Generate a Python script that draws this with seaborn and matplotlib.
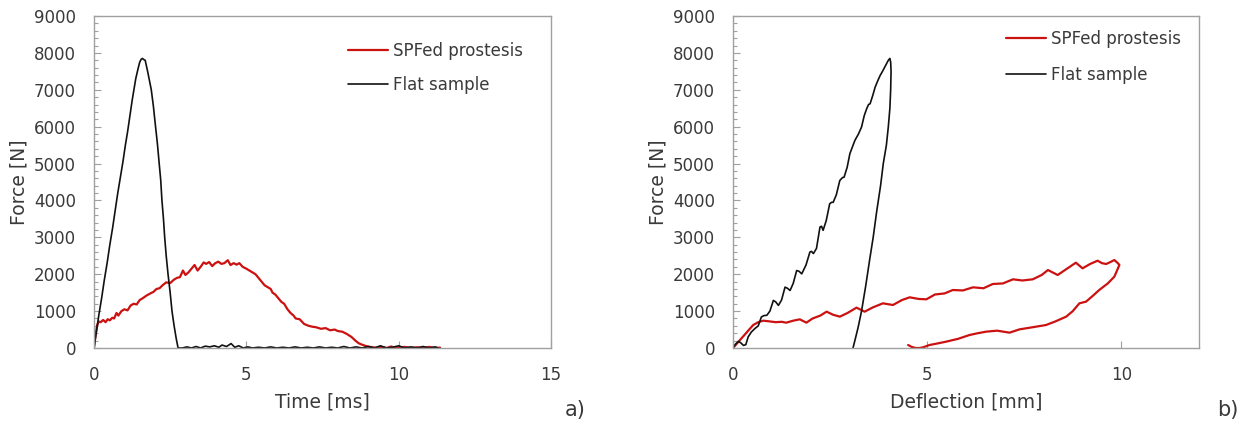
import matplotlib
matplotlib.use("Agg")
import matplotlib.pyplot as plt
import seaborn as sns
import numpy as np
import pandas as pd
from matplotlib.ticker import MultipleLocator

# ---------------- data: panel a) force vs time ----------------
time_spf = [0.00, 0.05, 0.10, 0.15, 0.22, 0.30, 0.38, 0.45, 0.52, 0.60, 0.66, 0.74, 0.80, 0.90,
            1.00, 1.10, 1.20, 1.30, 1.40, 1.50, 1.60, 1.72, 1.85, 1.95, 2.05, 2.15, 2.25, 2.37,
            2.50, 2.62, 2.72, 2.82, 2.92, 3.00, 3.10, 3.20, 3.30, 3.40, 3.50, 3.60, 3.68, 3.78,
            3.88, 3.98, 4.08, 4.18, 4.28, 4.39, 4.48, 4.58, 4.68, 4.77, 4.88, 5.00, 5.10, 5.20,
            5.30, 5.40, 5.50, 5.60, 5.70, 5.80, 5.86, 5.95, 6.05, 6.15, 6.24, 6.35, 6.45, 6.55,
            6.62, 6.75, 6.90, 7.05, 7.17, 7.30, 7.45, 7.60, 7.75, 7.90, 8.00, 8.15, 8.30, 8.45,
            8.58, 8.69, 8.80, 8.90, 9.02, 9.15, 9.30, 9.45, 9.60, 9.75, 9.90, 10.05, 10.20, 10.40,
            10.60, 10.80, 11.00, 11.20, 11.36]
force_spf = [0, 350, 600, 720, 700, 760, 700, 780, 750, 820, 800, 950, 880, 1000,
             1050, 1020, 1150, 1200, 1180, 1300, 1350, 1420, 1480, 1520, 1600, 1620, 1700, 1780,
             1760, 1850, 1900, 1920, 2100, 1980, 2050, 2150, 2250, 2100, 2200, 2320, 2280, 2330,
             2220, 2300, 2340, 2280, 2300, 2380, 2250, 2300, 2260, 2300, 2200, 2150, 2100, 2050,
             2000, 1900, 1800, 1700, 1650, 1600, 1500, 1450, 1350, 1250, 1200, 1050, 950, 880,
             800, 780, 650, 600, 577, 560, 520, 540, 480, 500, 460, 442, 380, 300,
             200, 127, 90, 60, 35, 20, 0, 30, 0, 40, 0, 10, 30, 0,
             20, 0, 30, 0, 10]

time_flat = [0.00, 0.08, 0.16, 0.25, 0.34, 0.43, 0.52, 0.61, 0.69, 0.78, 0.87, 0.95, 1.03, 1.10,
             1.18, 1.25, 1.31, 1.37, 1.44, 1.50, 1.55, 1.59, 1.63, 1.68, 1.76, 1.82, 1.88, 1.95,
             2.02, 2.08, 2.14, 2.19, 2.23, 2.28, 2.32, 2.37, 2.43, 2.50, 2.56, 2.63, 2.70, 2.76,
             2.90, 3.05, 3.20, 3.35, 3.50, 3.65, 3.80, 3.95, 4.10, 4.20, 4.35, 4.50, 4.62, 4.75,
             4.90, 5.05, 5.20, 5.40, 5.60, 5.80, 6.00, 6.20, 6.40, 6.60, 6.80, 7.00, 7.20, 7.40,
             7.60, 7.80, 8.00, 8.20, 8.40, 8.60, 8.80, 9.00, 9.20, 9.40, 9.60, 9.80, 10.00, 10.20,
             10.40, 10.60, 10.80, 11.00, 11.20, 11.30]
force_flat = [0, 450, 900, 1350, 1850, 2300, 2800, 3250, 3700, 4200, 4650, 5050, 5500, 5850,
              6300, 6700, 7000, 7300, 7550, 7750, 7830, 7850, 7820, 7800, 7500, 7250, 7000, 6550,
              6000, 5550, 5000, 4550, 4000, 3500, 3000, 2500, 2000, 1500, 1000, 600, 250, 0,
              0, 30, 0, 40, 0, 50, 30, 60, 20, 80, 40, 120, 20, 60,
              0, 30, 0, 20, 0, 30, 0, 20, 0, 30, 0, 20, 0, 30,
              0, 20, 0, 40, 0, 30, 0, 40, 0, 60, 0, 20, 60, 0,
              30, 0, 40, 0, 30, 0]

# ---------------- data: panel b) force vs deflection ----------------
defl_spf = [0.00, 0.10, 0.25, 0.40, 0.52, 0.65, 0.78, 0.95, 1.10, 1.25, 1.37, 1.55, 1.72, 1.89,
            2.05, 2.25, 2.41, 2.58, 2.75, 2.95, 3.18, 3.39, 3.60, 3.86, 4.12, 4.35, 4.55, 4.78,
            4.98, 5.20, 5.45, 5.66, 5.92, 6.18, 6.45, 6.69, 6.95, 7.21, 7.45, 7.72, 7.95, 8.11,
            8.36, 8.60, 8.83, 9.00, 9.20, 9.39, 9.50, 9.61, 9.72, 9.82, 9.91, 9.95, 9.82, 9.65,
            9.43, 9.25, 9.09, 8.92, 8.75, 8.58, 8.30, 8.06, 7.70, 7.38, 7.12, 6.80, 6.52, 6.30,
            6.09, 5.80, 5.49, 5.25, 5.06, 4.90, 4.81, 4.70, 4.60, 4.51]
force_spf_b = [0, 120, 300, 480, 623, 700, 741, 720, 700, 710, 687, 740, 777, 687,
               800, 880, 985, 900, 850, 950, 1094, 985, 1100, 1211, 1166, 1300, 1374, 1330,
               1320, 1450, 1480, 1572, 1560, 1645, 1620, 1735, 1750, 1862, 1830, 1862, 1980, 2114,
               1979, 2150, 2313, 2160, 2280, 2367, 2300, 2277, 2330, 2385, 2300, 2250, 1934, 1750,
               1572, 1400, 1256, 1211, 1000, 850, 720, 623, 560, 506, 416, 470, 443, 400,
               352, 250, 172, 120, 81, 20, 0, 0, 30, 81]

defl_flat = [0.00, 0.06, 0.14, 0.20, 0.27, 0.33, 0.39, 0.47, 0.56, 0.65, 0.73, 0.80, 0.87, 0.95,
             1.04, 1.10, 1.17, 1.25, 1.34, 1.40, 1.47, 1.55, 1.64, 1.70, 1.77, 1.88, 1.98, 2.02,
             2.07, 2.15, 2.24, 2.28, 2.32, 2.40, 2.49, 2.54, 2.58, 2.66, 2.75, 2.82, 2.86, 2.94,
             3.01, 3.14, 3.23, 3.31, 3.38, 3.44, 3.49, 3.53, 3.60, 3.66, 3.73, 3.79, 3.85, 3.91,
             3.96, 4.00, 4.04, 4.06, 4.07, 4.06, 4.04, 4.00, 3.95, 3.87, 3.80, 3.70, 3.61, 3.52,
             3.42, 3.31, 3.22, 3.15, 3.09]
force_flat_b = [0, 100, 180, 140, 70, 90, 300, 430, 524, 600, 840, 880, 885, 1000,
                1290, 1250, 1155, 1300, 1650, 1620, 1560, 1750, 2100, 2080, 2010, 2250, 2600, 2620,
                2560, 2700, 3280, 3300, 3190, 3450, 3910, 3950, 3950, 4150, 4540, 4620, 4630, 4900,
                5270, 5630, 5800, 5990, 6300, 6480, 6600, 6620, 6850, 7070, 7250, 7390, 7500, 7620,
                7720, 7800, 7850, 7750, 7500, 7000, 6500, 6000, 5500, 5000, 4400, 3700, 3000, 2400,
                1700, 1000, 550, 250, 0]

series_names = ["SPFed prostesis", "Flat sample"]
red = "#cc1111"
black = "#111111"

# ---------------- styling ----------------
sns.set_theme(style="white")
plt.rcParams["font.family"] = ["DejaVu Sans"]
text_col = "#3a3a3a"
spine_col = "#a0a0a0"

fig = plt.figure(figsize=(12.48, 4.28), dpi=100)
ax1 = fig.add_axes([94 / 1248, 80 / 428, 457 / 1248, 332 / 428])
ax2 = fig.add_axes([733 / 1248, 80 / 428, 466 / 1248, 332 / 428])

sns.lineplot(x=time_spf, y=force_spf, ax=ax1, color=red, lw=1.6, sort=False,
             estimator=None, label=series_names[0])
sns.lineplot(x=time_flat, y=force_flat, ax=ax1, color=black, lw=1.2, sort=False,
             estimator=None, label=series_names[1])

sns.lineplot(x=defl_spf, y=force_spf_b, ax=ax2, color=red, lw=1.6, sort=False,
             estimator=None, label=series_names[0])
sns.lineplot(x=defl_flat, y=force_flat_b, ax=ax2, color=black, lw=1.2, sort=False,
             estimator=None, label=series_names[1])

ax1.set_xlim(0, 15)
ax1.set_xticks([0, 5, 10, 15])
ax2.set_xlim(0, 12)
ax2.set_xticks([0, 5, 10])

for ax, xl in ((ax1, "Time [ms]"), (ax2, "Deflection [mm]")):
    ax.set_ylim(0, 9000)
    ax.set_yticks(range(0, 9001, 1000))
    ax.yaxis.set_minor_locator(MultipleLocator(200))
    ax.tick_params(axis="both", which="major", direction="in", length=5, width=0.8,
                   color=spine_col, labelsize=12, labelcolor=text_col)
    ax.tick_params(axis="y", which="minor", direction="in", length=3, width=0.8,
                   color=spine_col, left=True)
    ax.tick_params(axis="y", which="major", left=True, pad=13)
    ax.tick_params(axis="x", which="major", bottom=True, pad=13)
    for s in ax.spines.values():
        s.set_color(spine_col)
        s.set_linewidth(1.0)
    ax.set_xlabel(xl, fontsize=13.5, color=text_col, labelpad=6)
    ax.set_ylabel("Force [N]", fontsize=13.5, color=text_col, labelpad=4)
    ax.grid(False)

ax1.legend(loc="upper left", bbox_to_anchor=(0.556, 0.922), frameon=False, fontsize=12,
           borderpad=0, borderaxespad=0,
           handlelength=2.4, handletextpad=0.3, labelspacing=0.98, labelcolor=text_col)
ax2.legend(loc="upper left", bbox_to_anchor=(0.586, 0.958), frameon=False, fontsize=12,
           borderpad=0, borderaxespad=0,
           handlelength=2.4, handletextpad=0.3, labelspacing=1.1, labelcolor=text_col)

fig.text(575 / 1248, 1 - 410 / 428, "a)", fontsize=15, color=text_col, ha="center", va="center")
fig.text(1228 / 1248, 1 - 410 / 428, "b)", fontsize=15, color=text_col, ha="center", va="center")

fig.savefig("out.png", dpi=100, facecolor="white")
